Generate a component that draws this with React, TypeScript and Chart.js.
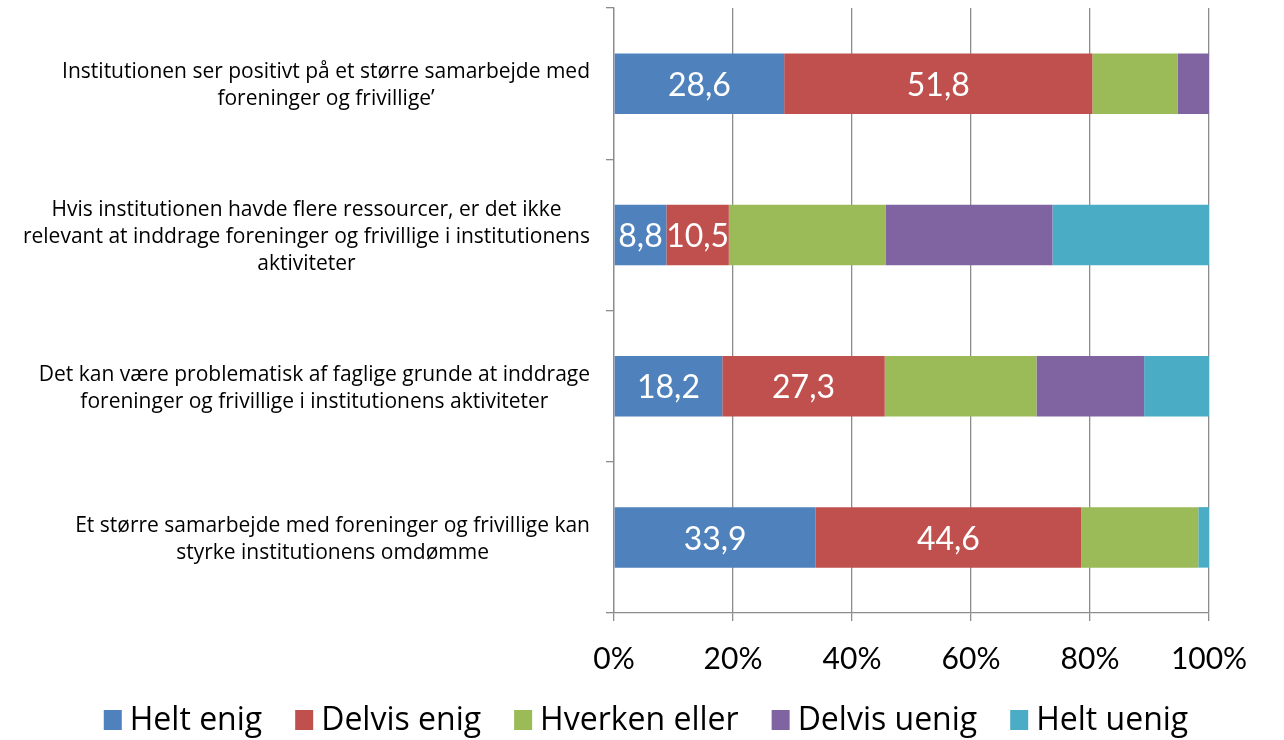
import React, { useEffect, useRef } from "react";
import { Chart, registerables } from "chart.js";

Chart.register(...registerables);

const categories: string[][] = [
  ["Institutionen ser positivt på et større samarbejde med", "foreninger og frivillige’"],
  ["Hvis institutionen havde flere ressourcer, er det ikke", "relevant at inddrage foreninger og frivillige i institutionens", "aktiviteter"],
  ["Det kan være problematisk af faglige grunde at inddrage", "foreninger og frivillige i institutionens aktiviteter"],
  ["Et større samarbejde med foreninger og frivillige kan", "styrke institutionens omdømme"],
];

const seriesNames = ["Helt enig", "Delvis enig", "Hverken eller", "Delvis uenig", "Helt uenig"];
const heltEnig = [28.6, 8.8, 18.2, 33.9];
const delvisEnig = [51.8, 10.5, 27.3, 44.6];
const hverkenEller = [14.3, 26.4, 25.5, 19.7];
const delvisUenig = [5.3, 28.0, 18.1, 0];
const heltUenig = [0, 26.3, 10.9, 1.8];
const colors = ["#4F81BD", "#C0504D", "#9BBB59", "#8064A2", "#4BACC6"];
const labelledSeries = [0, 1];
const xTicks = [0, 20, 40, 60, 80, 100];

const FONT = "Lato, 'Open Sans', sans-serif";
const LABEL_FONT = "'Open Sans', Lato, sans-serif";

const yLabelPlugin = {
  id: "yLabels",
  afterDraw(chart: any) {
    const ctx = chart.ctx;
    const y = chart.scales.y;
    ctx.save();
    ctx.font = `21px ${LABEL_FONT}`;
    ctx.fillStyle = "#000";
    ctx.textAlign = "center";
    ctx.textBaseline = "middle";
    const lh = 27;
    const rightEdge = 590;
    categories.forEach((lines, i) => {
      const cy = y.getPixelForValue(i);
      const widest = Math.max(...lines.map((l) => ctx.measureText(l).width));
      const cx = rightEdge - widest / 2;
      const start = cy - ((lines.length - 1) * lh) / 2 + 2;
      lines.forEach((l, j) => ctx.fillText(l, cx, start + j * lh));
    });
    ctx.restore();
  },
};

const valueLabelPlugin = {
  id: "valueLabels",
  afterDatasetsDraw(chart: any) {
    const ctx = chart.ctx;
    ctx.save();
    ctx.font = `32px ${FONT}`;
    ctx.fillStyle = "#fff";
    ctx.textAlign = "center";
    ctx.textBaseline = "middle";
    labelledSeries.forEach((di) => {
      const meta = chart.getDatasetMeta(di);
      meta.data.forEach((bar: any, i: number) => {
        const v = chart.data.datasets[di].data[i];
        const cx = (bar.x + bar.base) / 2;
        ctx.fillText(String(v).replace(".", ","), cx, bar.y + 2);
      });
    });
    ctx.restore();
  },
};

const legendPlugin = {
  id: "customLegend",
  afterDraw(chart: any) {
    const ctx = chart.ctx;
    ctx.save();
    ctx.font = `32px ${LABEL_FONT}`;
    ctx.textBaseline = "middle";
    ctx.textAlign = "left";
    const boxW = 18;
    const boxH = 20;
    const gapBox = 8;
    const gapItem = 33;
    const widths = seriesNames.map((n) => ctx.measureText(n).width);
    const total =
      widths.reduce((a, b) => a + b, 0) + seriesNames.length * (boxW + gapBox) + (seriesNames.length - 1) * gapItem;
    let x = 646 - total / 2;
    const cy = 720;
    seriesNames.forEach((n, i) => {
      ctx.fillStyle = colors[i];
      ctx.fillRect(x, cy - boxH / 2, boxW, boxH);
      x += boxW + gapBox;
      ctx.fillStyle = "#000";
      ctx.fillText(n, x, cy + 1);
      x += widths[i] + gapItem;
    });
    ctx.restore();
  },
};

export default function App() {
  const ref = useRef<HTMLCanvasElement>(null);
  useEffect(() => {
    document.body.style.margin = "0";
    const values = [heltEnig, delvisEnig, hverkenEller, delvisUenig, heltUenig];
    const chart = new Chart(ref.current!, {
      type: "bar",
      data: {
        labels: categories.map((c) => c.join(" ")),
        datasets: seriesNames.map((name, i) => ({
          label: name,
          data: values[i],
          backgroundColor: colors[i],
          borderWidth: 0,
          barPercentage: 0.4,
          categoryPercentage: 1,
        })),
      },
      options: {
        indexAxis: "y",
        animation: false,
        responsive: false,
        layout: { padding: { left: 0, right: 75, top: 8, bottom: 70 } },
        plugins: {
          legend: { display: false },
          tooltip: { enabled: false },
        },
        scales: {
          x: {
            stacked: true,
            min: 0,
            max: 100,
            afterBuildTicks: (s: any) => {
              s.ticks = xTicks.map((v) => ({ value: v }));
            },
            afterFit: (s: any) => {
              s.height = 57;
            },
            ticks: {
              callback: (v: any) => v + "%",
              color: "#000",
              font: { size: 30, family: FONT },
              padding: 20,
              maxRotation: 0,
            },
            grid: { color: "#8c8c8c", lineWidth: 1.3, tickLength: 8 },
            border: { color: "#8c8c8c", width: 1.3 },
          },
          y: {
            stacked: true,
            afterFit: (s: any) => {
              s.width = 614;
            },
            ticks: { display: false },
            grid: {
              offset: true,
              drawOnChartArea: false,
              color: "#8c8c8c",
              lineWidth: 1.3,
              tickLength: 8,
            },
            border: { color: "#8c8c8c", width: 1.3 },
          },
        },
      },
      plugins: [yLabelPlugin, valueLabelPlugin, legendPlugin],
    } as any);
    return () => chart.destroy();
  }, []);
  return <canvas ref={ref} width={1284} height={740} style={{ display: "block" }} />;
}
